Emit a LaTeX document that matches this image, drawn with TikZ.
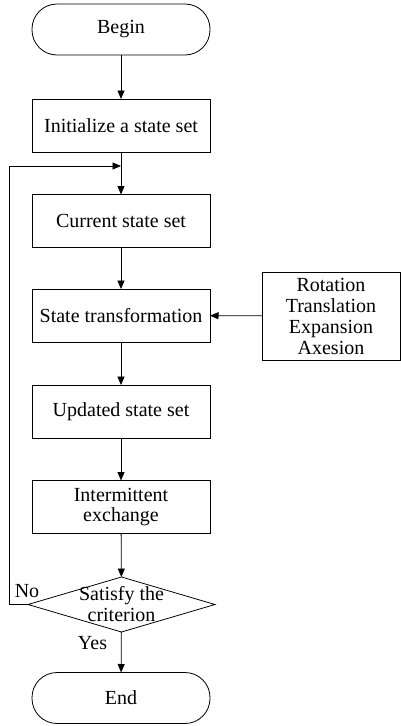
\documentclass[tikz,border=0pt]{standalone}
\usepackage{fontspec}
\setmainfont{Liberation Serif}
\usetikzlibrary{shapes.geometric,arrows.meta}
\begin{document}
\begin{tikzpicture}[x=1pt,y=-1pt,
  every node/.style={font=\fontsize{20}{21}\selectfont},
  box/.style={draw,line width=0.8pt,rectangle,minimum width=178pt,minimum height=53pt,inner sep=0pt,outer sep=0pt,align=center},
  term/.style={draw,line width=0.8pt,rectangle,rounded corners=25pt,minimum width=178pt,minimum height=51pt,inner sep=0pt,outer sep=0pt},
  arr/.style={line width=0.8pt,-{Triangle[length=8.5pt,width=7pt]}},
  lbl/.style={inner sep=0pt}]
\useasboundingbox (0,0) rectangle (401,726);
\node[term] (begin) at (121,29.5) {Begin};
\node[box] (init) at (121,125.5) {Initialize a state set};
\node[box] (current) at (121,221) {Current state set};
\node[box] (state) at (121,315.5) {State transformation};
\node[box] (updated) at (121,411.5) {Updated state set};
\node[box, align=center] (inter) at (121,507) {Intermittent\\[-1pt]exchange};
\node[draw,line width=0.8pt,diamond,minimum width=187pt,minimum height=55pt,inner sep=0pt,outer sep=0pt] (dia) at (121.5,604.5) {};
\node[lbl,align=center] (diatext) at (121.5,604) {Satisfy the\\criterion};
\node[term] (end) at (121,698) {End};
\node[draw,line width=0.8pt,rectangle,minimum width=138pt,minimum height=88pt,inner sep=0pt,outer sep=0pt,align=center] (ops) at (331,316) {Rotation\\Translation\\Expansion\\Axesion};
\node[lbl] (no) at (27,591) {No};
\node[lbl] (yes) at (92.5,643) {Yes};
\coordinate (lp) at (9,166);
\coordinate (join) at (121,166);
\draw[arr] (begin) -- (init);
\draw[arr] (init) -- (current);
\draw[arr] (current) -- (state);
\draw[arr] (state) -- (updated);
\draw[arr] (updated) -- (inter);
\draw[arr] (inter) -- (dia);
\draw[arr] (dia) -- (end);
\draw[arr] (ops) -- (state);
\draw[arr] (dia.west) -- (dia.west -| lp) -- (lp) -- (join);
\end{tikzpicture}
\end{document}
